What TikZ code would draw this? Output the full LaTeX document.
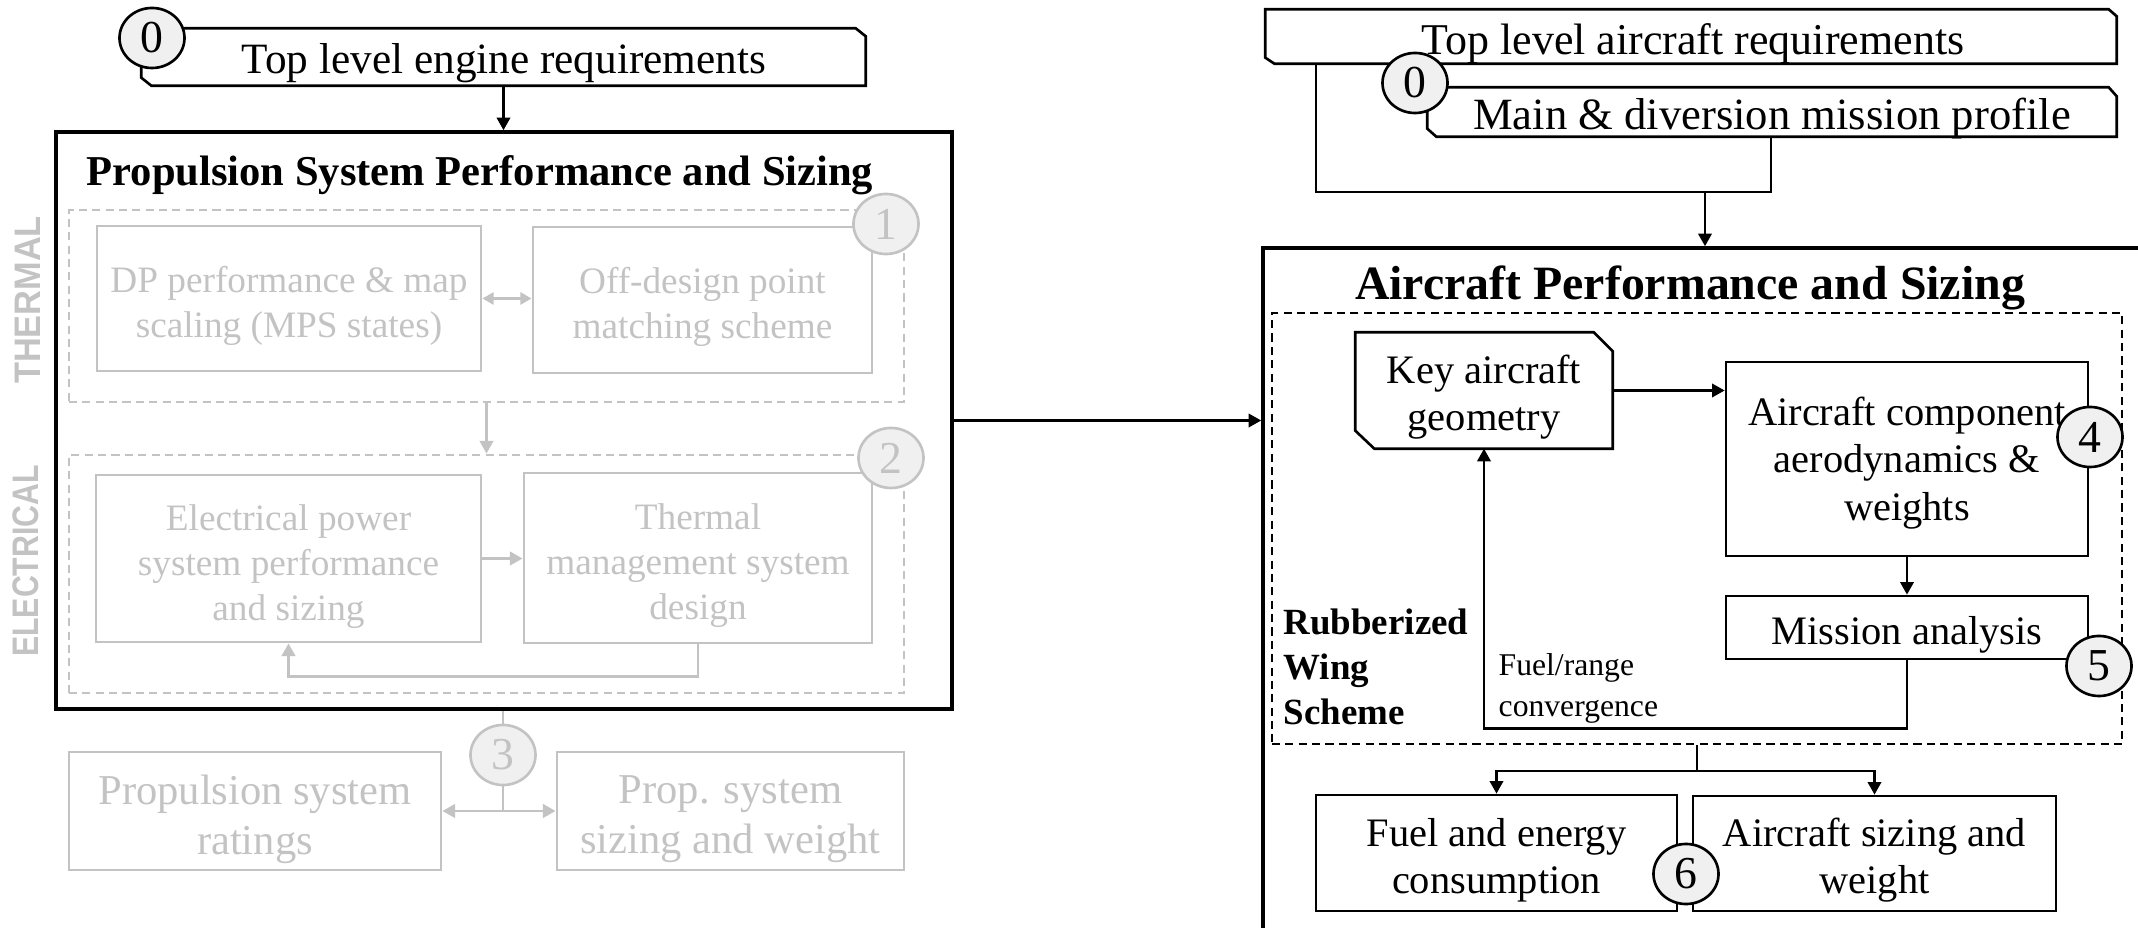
\documentclass[tikz,border=0pt]{standalone}
\usepackage{fontspec}
\usepackage{graphicx}
\setmainfont{Liberation Serif}
\newfontfamily\lsans{Liberation Sans}
\usetikzlibrary{arrows.meta,calc,shapes.geometric,fit}
\definecolor{lg}{HTML}{C3C3C3}
\definecolor{cf}{HTML}{F0F0F0}
\begin{document}
\begin{tikzpicture}[x=0.01cm,y=-0.01cm,
  bl/.style={draw=black,line width=0.75pt},
  obl/.style={draw=black,line width=1pt},
  gl/.style={draw=lg,line width=0.8pt},
  dsh/.style={dash pattern=on 2.3pt off 1.5pt},
  ah/.style={arrows={-Triangle[length=3.6pt,width=3.8pt]}},
  dah/.style={arrows={Triangle[length=3.2pt,width=3.4pt]-Triangle[length=3.2pt,width=3.4pt]}},
  bx/.style={fit={#1},inner sep=0pt},
  txt/.style={inner sep=0pt,align=center,yshift=-2pt},
  circ/.style={ellipse,draw=black,line width=0.75pt,fill=cf,minimum width=0.65cm,minimum height=0.6cm,inner sep=0pt,font=\fontsize{13}{15}\selectfont},
  gcirc/.style={circ,draw=lg,text=lg},
  ttop/.style={font=\fontsize{12.3}{14.5}\selectfont},
  tgray/.style={txt,font=\fontsize{10.6}{12.8}\selectfont,text=lg},
  tgrayl/.style={txt,font=\fontsize{12.1}{14.2}\selectfont,text=lg},
  tright/.style={txt,font=\fontsize{11.5}{13.4}\selectfont},
  vlab/.style={rotate=90,font=\lsans\bfseries\fontsize{10.5}{12}\selectfont,text=lg},
  side/.style={inner sep=0pt,anchor=base west}
]
\useasboundingbox (0,0) rectangle (2138,928);
\begin{scope}
\clip (0,0) rectangle (2138,928);

% ---------------- left: engine ----------------
\node[bx={(142,29)(865,85)}] (eng) {};
\draw[bl] ($(eng.north east)+(-10,0)$) -- ($(eng.north east)+(0,8)$) -- (eng.south east)
  -- ($(eng.south west)+(10,0)$) -- ($(eng.south west)+(0,-8)$) -- (eng.north west) -- cycle;
\node[ttop,anchor=base] (engt) at (504,74) {Top level engine requirements};
\node[circ] (c0l) at (152,38) {0};

\node[bx={(56,132)(952,709)},obl] (prop) {};
\draw[bl,ah] (eng.south) -- (eng.south |- prop.north);
\node[anchor=base,font=\bfseries\fontsize{12.1}{14}\selectfont] (propt) at (480,186) {Propulsion System Performance and Sizing};

% thermal
\node[bx={(69,210)(904,402)},gl,dsh] (tbox) {};
\node[bx={(97,226)(481,371)},gl] (dp) {};
\node[tgray] (dpt) at (dp.center) {DP performance \& map\\scaling (MPS states)};
\node[bx={(533,227)(872,373)},gl] (off) {};
\node[tgray] (offt) at (off.center) {Off-design point\\matching scheme};
\draw[gl,dah] (dp.east) -- (dp.east -| off.west);
\node[gcirc] (c1) at (886,224) {1};

% electrical
\node[bx={(69,455)(904,693)},gl,dsh] (ebox) {};
\draw[gl,ah] (tbox.south) -- (tbox.south |- ebox.north);
\node[bx={(96,475)(481,642)},gl] (ep) {};
\node[tgray] (ept) at ($(ep.center)+(0,1)$) {Electrical power\\system performance\\and sizing};
\node[bx={(524,473)(872,643)},gl] (tm) {};
\node[tgray] (tmt) at ($(tm.center)+(0,1)$) {Thermal\\management system\\design};
\draw[gl,ah] (ep.east) -- (ep.east -| tm.west);
\draw[gl,ah] (tm.south) -- ++(0,32) -| (ep.south);
\node[gcirc] (c2) at (891,458) {2};

\node[vlab] (lthermal) at (28,300) {\scalebox{0.93}[1]{THERMAL}};
\node[vlab] (lelec) at (26,561) {\scalebox{0.82}[1]{ELECTRICAL}};

% ratings
\node[gcirc] (c3) at (503,755) {3};
\draw[gl] (prop.south -| c3.north) -- (c3.north);
\coordinate (j3) at (503,811);
\node[bx={(69,752)(441,870)},gl] (psr) {};
\node[tgrayl] (psrt) at ($(psr.center)+(0,1)$) {Propulsion system\\ratings};
\node[bx={(557,752)(904,870)},gl] (pss) {};
\node[tgrayl] (psst) at ($(pss.center)+(0,1)$) {Prop. system\\sizing and weight};
\draw[gl] (c3.south) -- (j3);
\draw[gl,ah] (j3) -- (j3 -| psr.east);
\draw[gl,ah] (j3) -- (j3 -| pss.west);

% ---------------- right: aircraft ----------------
\node[bx={(1266,10)(2116,63)}] (topac) {};
\draw[bl] ($(topac.north east)+(-8,0)$) -- ($(topac.north east)+(0,7)$) -- (topac.south east)
  -- ($(topac.south west)+(9,0)$) -- ($(topac.south west)+(0,-6)$) -- (topac.north west) -- cycle;
\node[font=\fontsize{12.5}{14.5}\selectfont,anchor=base] (topact) at (1693,55) {Top level aircraft requirements};

\node[bx={(1428,88)(2116,136)}] (mp) {};
\draw[bl] ($(mp.north east)+(-8,0)$) -- ($(mp.north east)+(0,9)$) -- (mp.south east)
  -- ($(mp.south west)+(9,0)$) -- ($(mp.south west)+(0,-8)$) -- (mp.north west) -- cycle;
\node[font=\fontsize{12.7}{14.5}\selectfont,anchor=base] (mpt) at (1772,130) {Main \& diversion mission profile};
\node[circ] (c0r) at (1415,83) {0};

\node[bx={(1263,248)(2175,975)},obl] (acbox) {};
\coordinate (tl) at (1316,192);
\coordinate (tr) at (1771,192);
\coordinate (jt) at (1705,192);
\draw[bl] (tl |- topac.south) -- (tl) -- (tr) -- (tr |- mp.south);
\draw[bl,ah] (jt) -- (jt |- acbox.north);
\draw[bl,ah] (prop.east) -- (prop.east -| acbox.west);

\node[anchor=base,font=\bfseries\fontsize{13.6}{16}\selectfont] (act) at (1690,300) {Aircraft Performance and Sizing};
\node[bx={(1272,313)(2122,744)},bl,dsh] (rws) {};

\node[bx={(1356,333)(1612,448)}] (key) {};
\draw[bl] ($(key.north east)+(-19,0)$) -- ($(key.north east)+(0,19)$) -- (key.south east)
  -- ($(key.south west)+(19,0)$) -- ($(key.south west)+(0,-18)$) -- (key.north west) -- cycle;
\node[tright] (keyt) at (key.center) {Key aircraft\\geometry};
\node[bx={(1726,362)(2088,556)},bl] (comp) {};
\node[tright] (compt) at ($(comp.center)+(0,-3)$) {Aircraft component\\aerodynamics \&\\weights};
\node[bx={(1726,596)(2088,659)},bl] (mis) {};
\node[tright] (mist) at (mis.center) {Mission analysis};
\draw[bl,ah] (key.east) -- (key.east -| comp.west);
\draw[bl,ah] (comp.south) -- (mis.north);
\draw[bl,ah] (mis.south) -- ++(0,68) -| (key.south);
\node[circ] (c4) at (2090,437) {4};
\node[circ] (c5) at (2099,666) {5};

\node[side,font=\fontsize{9}{11}\selectfont] (fr1) at (1498,676) {Fuel/range};
\node[side,font=\fontsize{9}{11}\selectfont] (fr2) at (1498,717) {convergence};
\node[side,font=\bfseries\fontsize{10.5}{12}\selectfont] (rw1) at (1283,635) {Rubberized};
\node[side,font=\bfseries\fontsize{10.5}{12}\selectfont] (rw2) at (1283,680) {Wing};
\node[side,font=\bfseries\fontsize{10.5}{12}\selectfont] (rw3) at (1283,725) {Scheme};

\node[bx={(1316,795)(1677,911)},bl] (fuel) {};
\node[tright] (fuelt) at (fuel.center) {Fuel and energy\\consumption};
\node[bx={(1693,796)(2056,911)},bl] (size) {};
\node[tright] (sizet) at (size.center) {Aircraft sizing and\\weight};
\coordinate (j6) at (1697,771);
\draw[bl] (rws.south) -- (j6);
\draw[bl,ah] (j6) -| (fuel.north);
\draw[bl,ah] (j6) -| (size.north);
\node[circ] (c6) at (1686,874) {6};
\end{scope}
\end{tikzpicture}
\end{document}
